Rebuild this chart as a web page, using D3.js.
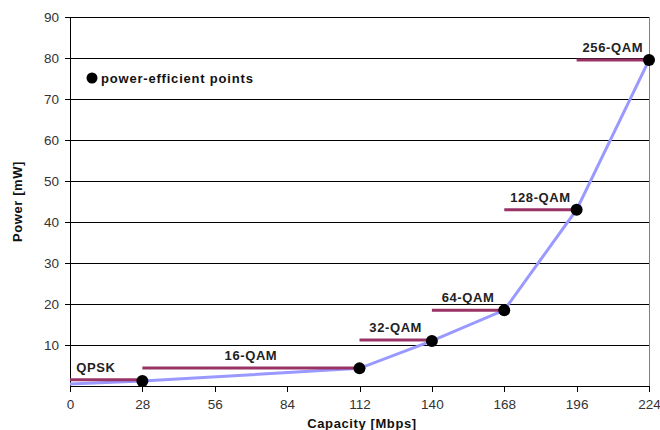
<!DOCTYPE html>
<html><head><meta charset="utf-8">
<script src="https://cdn.jsdelivr.net/npm/d3@7/dist/d3.min.js"></script>
<style>body{margin:0;background:#fff}svg{display:block}</style>
</head><body><svg id="c" width="660" height="430"></svg>
<script>
const xTicks = [0, 28, 56, 84, 112, 140, 168, 196, 224];
const yTicks = [10, 20, 30, 40, 50, 60, 70, 80, 90];
const curveX = [0, 28, 112, 140, 168, 196, 224];
const curveY = [0.5, 1.2, 4.3, 11, 18.5, 43, 79.5];
const modNames = ["QPSK", "16-QAM", "32-QAM", "64-QAM", "128-QAM", "256-QAM"];
const modStart = [0, 28, 112, 140, 168, 196];
const modEnd = [28, 112, 140, 168, 196, 224];
const modPower = [1.5, 4.4, 11.2, 18.5, 43, 79.5];
const pointX = [28, 112, 140, 168, 196, 224];
const pointY = [1.2, 4.3, 11, 18.5, 43, 79.5];

const svg = d3.select("#c");
const x = d3.scaleLinear().domain([0, 224]).range([70, 649]);
const y = d3.scaleLinear().domain([0, 90]).range([386, 17]);
const font = "Arial, 'Liberation Sans', sans-serif";

svg.append("g").selectAll("line").data(yTicks).join("line")
  .attr("x1", x(0)).attr("x2", x(224))
  .attr("y1", d => y(d)).attr("y2", d => y(d))
  .attr("stroke", "#000").attr("stroke-width", 1).attr("shape-rendering", "crispEdges");
svg.append("line").attr("x1", x(224)).attr("x2", x(224)).attr("y1", y(90)).attr("y2", y(0))
  .attr("stroke", "#808080").attr("shape-rendering", "crispEdges");

const ya = svg.append("g").attr("transform", `translate(${x(0)},0)`)
  .call(d3.axisLeft(y).tickValues(yTicks).tickSize(5).tickPadding(6));
ya.select(".domain").attr("d", `M0,${y(90)}V${y(0)}`);
const xa = svg.append("g").attr("transform", `translate(0,${y(0)})`)
  .call(d3.axisBottom(x).tickValues(xTicks).tickSize(6).tickPadding(7));
[ya, xa].forEach(g => {
  g.selectAll("text").attr("font-family", font).attr("font-size", 13.5).attr("fill", "#333");
  g.selectAll("line,path").attr("stroke", "#000").attr("shape-rendering", "crispEdges");
});
xa.select(".domain").attr("d", `M${x(0)},0H${x(224)}`);

svg.append("path").datum(curveX.map((d, i) => [d, curveY[i]]))
  .attr("d", d3.line().x(d => x(d[0])).y(d => y(d[1])))
  .attr("fill", "none").attr("stroke", "#9999ff").attr("stroke-width", 3);

svg.append("g").selectAll("line").data(modNames).join("line")
  .attr("x1", (d, i) => x(modStart[i])).attr("x2", (d, i) => x(modEnd[i]))
  .attr("y1", (d, i) => y(modPower[i])).attr("y2", (d, i) => y(modPower[i]))
  .attr("stroke", "#993366").attr("stroke-width", 3);

svg.append("g").selectAll("text").data(modNames).join("text")
  .attr("x", (d, i) => i === 0 ? x(10) : (i === 5 ? x(210) : x((modStart[i] + modEnd[i]) / 2)))
  .attr("y", (d, i) => y(modPower[i]) - 8)
  .attr("text-anchor", "middle")
  .attr("font-family", font).attr("font-size", 13).attr("letter-spacing", 0.6)
  .attr("font-weight", "bold").attr("fill", "#222")
  .text(d => d);

svg.append("g").selectAll("circle").data(pointX).join("circle")
  .attr("cx", d => x(d)).attr("cy", (d, i) => y(pointY[i])).attr("r", 6).attr("fill", "#000");

svg.append("circle").attr("cx", 92).attr("cy", 78).attr("r", 5.5).attr("fill", "#000");
svg.append("text").attr("x", 101).attr("y", 82.5).attr("font-family", font).attr("font-size", 13)
  .attr("letter-spacing", 0.8).attr("font-weight", "bold").attr("fill", "#111").text("power-efficient points");

svg.append("text").attr("transform", `translate(22,${(y(0) + y(90)) / 2}) rotate(-90)`)
  .attr("text-anchor", "middle").attr("font-family", font).attr("font-size", 13)
  .attr("letter-spacing", 0.6).attr("font-weight", "bold").attr("fill", "#111").text("Power [mW]");
svg.append("text").attr("x", 362).attr("y", 428).attr("text-anchor", "middle")
  .attr("font-family", font).attr("font-size", 13).attr("letter-spacing", 0.6)
  .attr("font-weight", "bold").attr("fill", "#111")
  .text("Capacity [Mbps]");
</script></body></html>
